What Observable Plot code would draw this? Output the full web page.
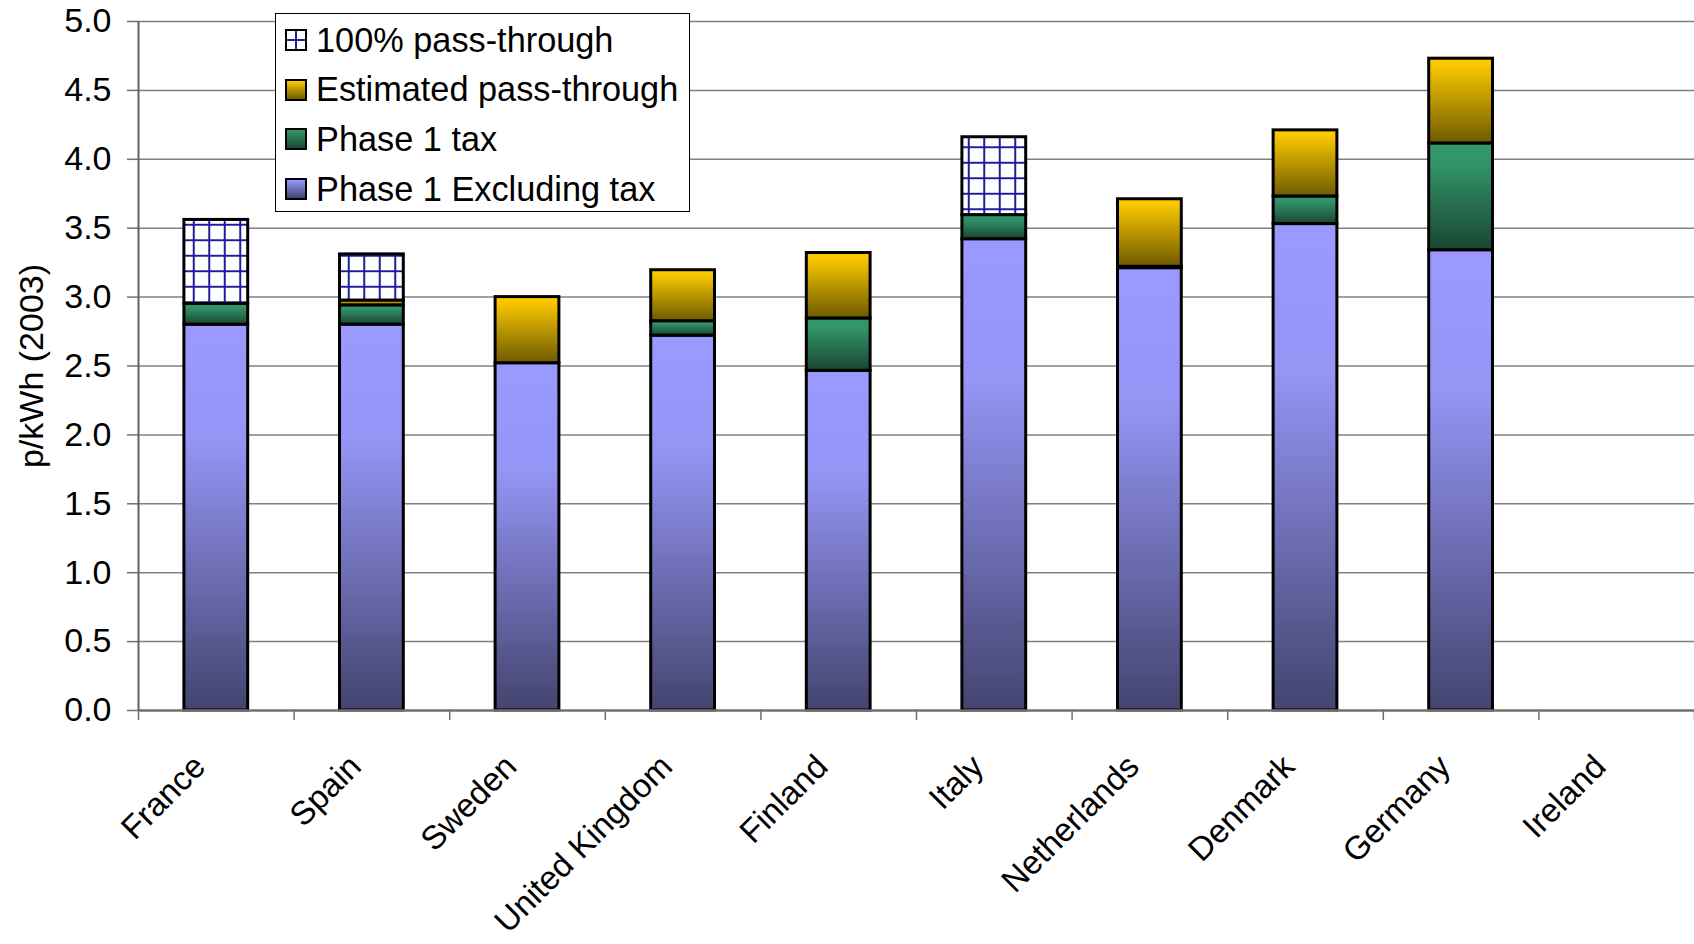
<!DOCTYPE html>
<html>
<head>
<meta charset="utf-8">
<script src="https://cdn.jsdelivr.net/npm/d3@7"></script>
<script src="https://cdn.jsdelivr.net/npm/@observablehq/plot@0.6"></script>
<style>
  html, body { margin: 0; padding: 0; background: white; }
  #wrap { position: relative; width: 1694px; height: 944px; font-family: "Liberation Sans", Arial, sans-serif; }
  #legend { position: absolute; left: 275px; top: 13px; width: 415px; height: 199px; border: 1px solid #000; background: white; box-sizing: border-box; }
  .row { position: absolute; left: 9px; height: 40px; display: flex; align-items: center; font-size: 34.3px; color: #000; white-space: nowrap; }
  .sw { width: 22px; height: 22px; box-sizing: border-box; border: 2px solid #000; margin-right: 9px; flex: none; }
</style>
</head>
<body>
<div id="wrap"><div id="chart"></div><div id="legend"></div></div>
<script>
// ---- data ----
const countries = ["France", "Spain", "Sweden", "United Kingdom", "Finland", "Italy", "Netherlands", "Denmark", "Germany", "Ireland"];
const series = ["Phase 1 Excluding tax", "Phase 1 tax", "Estimated pass-through", "100% pass-through"];
const exclTax = [2.80, 2.80, 2.52, 2.72, 2.465, 3.42, 3.21, 3.53, 3.34, 0];
const phaseTax = [0.15, 0.14, 0, 0.105, 0.38, 0.175, 0.01, 0.20, 0.775, 0];
const estPass = [0, 0.035, 0.48, 0.37, 0.475, 0, 0.49, 0.48, 0.615, 0];
const fullPass = [0.61, 0.335, 0, 0, 0, 0.565, 0, 0, 0, 0];
const yTicks = [0, 0.5, 1.0, 1.5, 2.0, 2.5, 3.0, 3.5, 4.0, 4.5, 5.0];
const yLabel = ["p/kWh (2003)"];
const legendOrder = ["100% pass-through", "Estimated pass-through", "Phase 1 tax", "Phase 1 Excluding tax"];

const seriesValues = [exclTax, phaseTax, estPass, fullPass];
const data = [];
countries.forEach((c, i) => {
  series.forEach((s, k) => {
    const v = seriesValues[k][i];
    if (v > 0) data.push({country: c, series: s, value: v});
  });
});

const fills = ["url(#gPurple)", "url(#gGreen)", "url(#gYellow)", "url(#hatch)"];

const W = 1694, H = 944, mL = 138, mR = 0, mT = 21, mB = 234;
const step = (W - mL - mR) / countries.length;

const chart = Plot.plot({
  width: W, height: H,
  marginLeft: mL, marginRight: mR, marginTop: mT, marginBottom: mB,
  style: {fontFamily: "'Liberation Sans', Arial, sans-serif", fontSize: "34px", background: "white", color: "black", overflow: "visible"},
  x: {domain: countries, paddingInner: 0.59, paddingOuter: 0.295, round: false, axis: null},
  y: {domain: [0, 5], axis: null},
  color: {domain: series, range: fills},
  marks: [
    Plot.ruleY(yTicks.filter(d => d > 0), {stroke: "#808080", strokeWidth: 1.5}),
    Plot.axisY({ticks: yTicks, tickFormat: d3.format(".1f"), tickSize: 11, tickPadding: 16, fontSize: 34, label: null, stroke: "#707070", strokeWidth: 1.5, fill: "black"}),
    Plot.barY(data, {x: "country", y: "value", z: "series", fill: "series", order: series, stroke: "black", strokeWidth: 3}),
    Plot.ruleY([0], {stroke: "#707070", strokeWidth: 2.5}),
    Plot.ruleX(countries.slice(0, 1), {dx: -step / 2, stroke: "#606060", strokeWidth: 2}),
    Plot.ruleX(countries, {dx: -step / 2, y1: 0, y2: 0, insetBottom: -10, stroke: "#707070", strokeWidth: 1.5}),
    Plot.ruleX(countries.slice(-1), {dx: step / 2, y1: 0, y2: 0, insetBottom: -10, stroke: "#707070", strokeWidth: 1.5}),
    Plot.text(countries, {x: d => d, frameAnchor: "bottom", rotate: -45, textAnchor: "end", dx: -9, dy: 58, fontSize: 33, fill: "black"}),
    Plot.text(yLabel, {frameAnchor: "left", text: d => d, rotate: -90, textAnchor: "middle", dx: -106, fontSize: 34, fill: "black"})
  ]
});

const defs = `
<defs>
  <linearGradient id="gPurple" x1="0" y1="0" x2="0" y2="1">
    <stop offset="0" stop-color="#9999FF"/>
    <stop offset="0.3" stop-color="#9595F6"/>
    <stop offset="1" stop-color="#44446F"/>
  </linearGradient>
  <linearGradient id="gGreen" x1="0" y1="0" x2="0" y2="1">
    <stop offset="0" stop-color="#339966"/>
    <stop offset="0.2" stop-color="#31936A"/>
    <stop offset="1" stop-color="#1A4631"/>
  </linearGradient>
  <linearGradient id="gYellow" x1="0" y1="0" x2="0" y2="1">
    <stop offset="0" stop-color="#FFCC00"/>
    <stop offset="0.1" stop-color="#F7C600"/>
    <stop offset="1" stop-color="#6E5A00"/>
  </linearGradient>
  <pattern id="hatch" patternUnits="userSpaceOnUse" x="0" y="0" width="15.5" height="15.5">
    <rect width="15.5" height="15.5" fill="white"/>
    <path d="M7.75,0V15.5M0,7.75H15.5" stroke="#1C1C9C" stroke-width="2"/>
  </pattern>
</defs>`;
chart.insertAdjacentHTML("afterbegin", defs);
document.getElementById("chart").appendChild(chart);

// legend
const swatchCss = {
  "100% pass-through": "background: linear-gradient(to right, transparent 42%, #1C1C9C 42%, #1C1C9C 58%, transparent 58%), linear-gradient(to bottom, transparent 42%, #1C1C9C 42%, #1C1C9C 58%, transparent 58%), white;",
  "Estimated pass-through": "background: linear-gradient(to bottom, #FFCC00, #6E5A00);",
  "Phase 1 tax": "background: linear-gradient(to bottom, #339966, #1A4631);",
  "Phase 1 Excluding tax": "background: linear-gradient(to bottom, #9999FF, #44446F);"
};
const legend = document.getElementById("legend");
legendOrder.forEach((s, i) => {
  const row = document.createElement("div");
  row.className = "row";
  row.style.top = (6 + i * 49.7) + "px";
  row.innerHTML = `<div class="sw" style="${swatchCss[s]}"></div><span>${s}</span>`;
  legend.appendChild(row);
});
</script>
</body>
</html>
